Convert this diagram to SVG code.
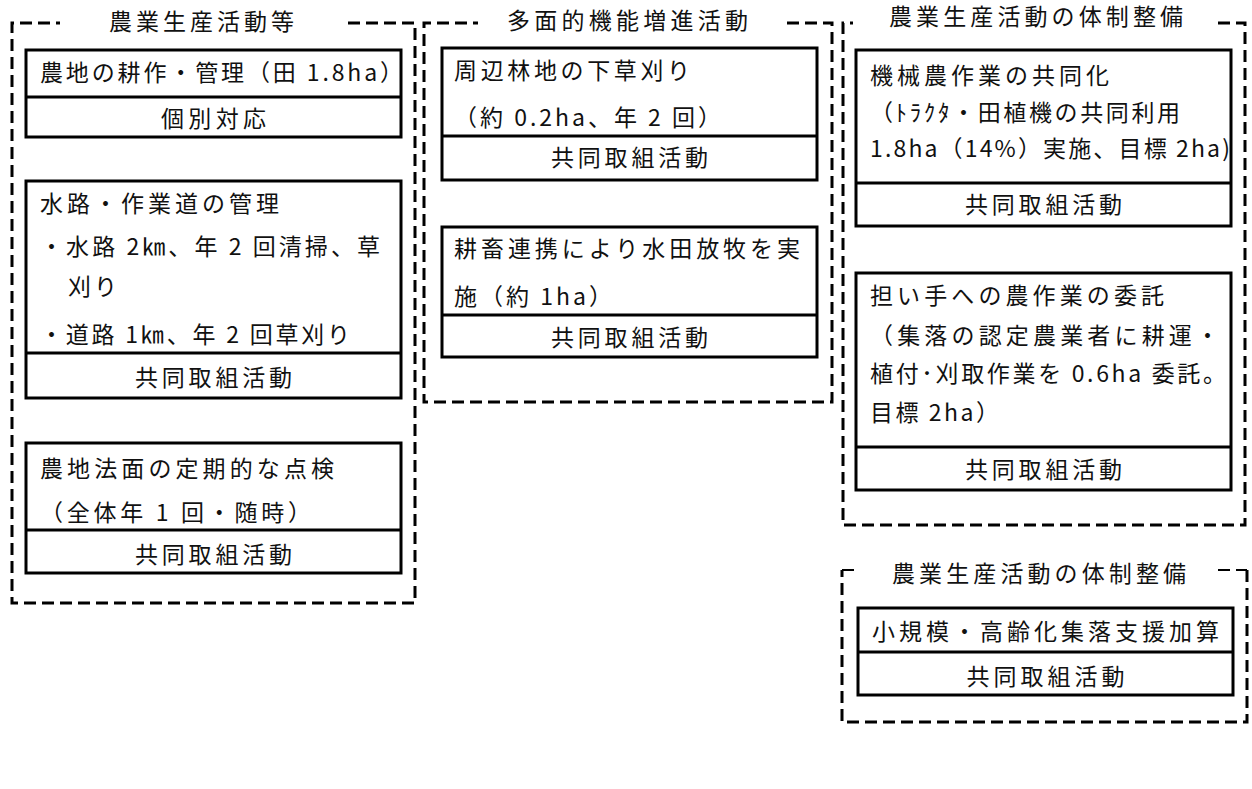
<svg xmlns="http://www.w3.org/2000/svg" width="1252" height="789" viewBox="0 0 1252 789">
<style>
.frame{fill:none;stroke:#000;stroke-width:3;stroke-dasharray:12 6}
.thin{stroke-width:2}
.box{fill:#fff;stroke:#000;stroke-width:3}
.div{stroke:#000;stroke-width:3}
.t{font-family:"Noto Sans CJK JP","Noto Sans CJK SC",sans-serif;font-size:23px;fill:#111}
.c{text-anchor:middle}
</style>
<rect width="1252" height="789" fill="#fff"/>
<g id="connectors"></g>

<g id="group1">
<path class="frame" d="M348,23 H415 V603 H12 V23 H60"/>
<text class="t c" x="201.5" y="30" textLength="185" lengthAdjust="spacing">農業生産活動等</text>
</g>
<g id="node-g1-1">
<rect class="box" x="26" y="50" width="375" height="87"/>
<line class="div" x1="26" y1="97" x2="401" y2="97"/>
<text class="t" x="40" y="81" textLength="363" lengthAdjust="spacing">農地の耕作・管理（田 1.8ha）</text>
<text class="t c" x="213.5" y="127" textLength="105" lengthAdjust="spacing">個別対応</text>
</g>
<g id="node-g1-2">
<rect class="box" x="26" y="181" width="375" height="217"/>
<line class="div" x1="26" y1="353" x2="401" y2="353"/>
<text class="t" x="40" y="212" textLength="239" lengthAdjust="spacing">水路・作業道の管理</text>
<text class="t" x="40" y="255" textLength="340" lengthAdjust="spacing">・水路 2㎞、年 2 回清掃、草</text>
<text class="t" x="68" y="295" textLength="49" lengthAdjust="spacing">刈り</text>
<text class="t" x="40" y="342.5" textLength="310" lengthAdjust="spacing">・道路 1㎞、年 2 回草刈り</text>
<text class="t c" x="213.5" y="385.5" textLength="157" lengthAdjust="spacing">共同取組活動</text>
</g>
<g id="node-g1-3">
<rect class="box" x="26" y="443" width="375" height="130"/>
<line class="div" x1="26" y1="530" x2="401" y2="530"/>
<text class="t" x="40" y="477" textLength="294" lengthAdjust="spacing">農地法面の定期的な点検</text>
<text class="t" x="40" y="520.5" textLength="271" lengthAdjust="spacing">（全体年 1 回・随時）</text>
<text class="t c" x="213.5" y="562.5" textLength="157" lengthAdjust="spacing">共同取組活動</text>
</g>

<g id="group2">
<path class="frame" d="M787,23 H832 V402 H424 V23 H478"/>
<text class="t c" x="627.5" y="29" textLength="241" lengthAdjust="spacing">多面的機能増進活動</text>
</g>
<g id="node-g2-1">
<rect class="box" x="442" y="48" width="375" height="132"/>
<line class="div" x1="442" y1="136" x2="817" y2="136"/>
<text class="t" x="454" y="79" textLength="236" lengthAdjust="spacing">周辺林地の下草刈り</text>
<text class="t" x="454" y="125.5" textLength="267" lengthAdjust="spacing">（約 0.2ha、年 2 回）</text>
<text class="t c" x="629.5" y="165.5" textLength="157" lengthAdjust="spacing">共同取組活動</text>
</g>
<g id="node-g2-2">
<rect class="box" x="442" y="227" width="375" height="130"/>
<line class="div" x1="442" y1="315" x2="817" y2="315"/>
<text class="t" x="454" y="256.5" textLength="346" lengthAdjust="spacing">耕畜連携により水田放牧を実</text>
<text class="t" x="454" y="304.5" textLength="158" lengthAdjust="spacing">施（約 1ha）</text>
<text class="t c" x="629.5" y="345.5" textLength="157" lengthAdjust="spacing">共同取組活動</text>
</g>

<g id="group3">
<path class="frame" d="M1218,23 H1245 V525 H843 V23 H853"/>
<text class="t c" x="1036" y="25" textLength="294" lengthAdjust="spacing">農業生産活動の体制整備</text>
</g>
<g id="node-g3-1">
<rect class="box" x="856" y="50" width="375" height="176"/>
<line class="div" x1="856" y1="183" x2="1231" y2="183"/>
<text class="t" x="870" y="83.5" textLength="239" lengthAdjust="spacing">機械農作業の共同化</text>
<text class="t" x="870" y="120.5" textLength="310" lengthAdjust="spacing">（ﾄﾗｸﾀ・田植機の共同利用</text>
<text class="t" x="870" y="156.5" textLength="360" lengthAdjust="spacing">1.8ha（14%）実施、目標 2ha)</text>
<text class="t c" x="1043.5" y="212.5" textLength="157" lengthAdjust="spacing">共同取組活動</text>
</g>
<g id="node-g3-2">
<rect class="box" x="856" y="273" width="375" height="217"/>
<line class="div" x1="856" y1="447" x2="1231" y2="447"/>
<text class="t" x="870" y="303.5" textLength="294" lengthAdjust="spacing">担い手への農作業の委託</text>
<text class="t" x="870" y="343.5" textLength="349" lengthAdjust="spacing">（集落の認定農業者に耕運・</text>
<text class="t" x="870" y="381.5" textLength="356" lengthAdjust="spacing">植付･刈取作業を 0.6ha 委託。</text>
<text class="t" x="870" y="420.5" textLength="129" lengthAdjust="spacing">目標 2ha）</text>
<text class="t c" x="1043.5" y="477.5" textLength="157" lengthAdjust="spacing">共同取組活動</text>
</g>

<g id="group4">
<path class="frame" d="M1247,570 V722 H842 V570"/>
<path class="frame thin" d="M842,570 H856 M1218,570 H1247"/>
<text class="t c" x="1039" y="581.5" textLength="294" lengthAdjust="spacing">農業生産活動の体制整備</text>
</g>
<g id="node-g4-1">
<rect class="box" x="858" y="608" width="375" height="87"/>
<line class="div" x1="858" y1="652" x2="1233" y2="652"/>
<text class="t c" x="1045.5" y="639.5" textLength="347" lengthAdjust="spacing">小規模・高齢化集落支援加算</text>
<text class="t c" x="1045.5" y="684.5" textLength="158" lengthAdjust="spacing">共同取組活動</text>
</g>
</svg>
